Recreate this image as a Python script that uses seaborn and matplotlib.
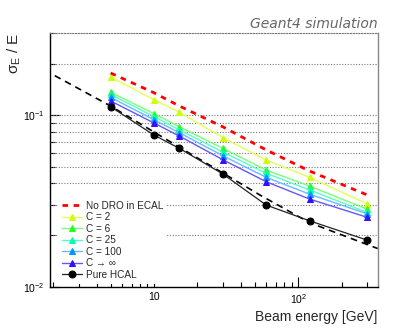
import matplotlib
matplotlib.use("Agg")
import matplotlib.pyplot as plt
import matplotlib.ticker as mticker
import seaborn as sns

# beam energies [GeV] and resolution sigma_E / E
energy = [5, 10, 15, 30, 60, 120, 300]
no_dro = [0.176, 0.135, 0.113, 0.0855, 0.0627, 0.0472, 0.0343]
c2 = [0.167, 0.123, 0.104, 0.074, 0.0547, 0.0434, 0.0304]
c6 = [0.136, 0.102, 0.0855, 0.064, 0.0478, 0.0386, 0.0283]
c25 = [0.132, 0.098, 0.082, 0.061, 0.0458, 0.0366, 0.0271]
c100 = [0.127, 0.094, 0.079, 0.058, 0.0434, 0.0346, 0.0266]
cinf = [0.121, 0.090, 0.0755, 0.055, 0.0409, 0.0324, 0.0254]
hcal = [0.112, 0.0765, 0.064, 0.0454, 0.0299, 0.0242, 0.0187]

# dashed fit curve through pure HCAL points
fit_energy = [2.05, 5, 15, 55, 120, 355]
fit_sigma = [0.170, 0.113, 0.065, 0.034, 0.0236, 0.0167]

c_labels = ["C = 2", "C = 6", "C = 25", "C = 100", "C \u2192 \u221e"]
c_series = [c2, c6, c25, c100, cinf]
marker_colors = ["#ccff00", "#22ff22", "#00ffb0", "#0099ff", "#3311ff"]
line_colors = ["#e2ff55", "#77ff77", "#55ffcc", "#66bbff", "#6655ff"]

sns.set_theme(style="ticks")
plt.rcParams["font.family"] = ["Liberation Sans", "DejaVu Sans"]
plt.rcParams["mathtext.fontset"] = "custom"
plt.rcParams["mathtext.rm"] = "Liberation Sans"
plt.rcParams["mathtext.it"] = "Liberation Sans:italic"

fig = plt.figure(figsize=(4.19, 3.31), dpi=100)
ax = fig.add_axes([0.1193, 0.1338, 0.782, 0.7656])

# black dashed fit
sns.lineplot(x=fit_energy, y=fit_sigma, ax=ax, color="black", lw=1.2,
             linestyle=(0, (4, 3)), zorder=3)

for lab, vals, mc, lc in zip(c_labels, c_series, marker_colors, line_colors):
    sns.lineplot(x=energy, y=vals, ax=ax, color=lc, lw=1.0, marker="^",
                 markersize=5, markerfacecolor=mc, markeredgecolor=mc,
                 label=lab, zorder=4)

sns.lineplot(x=energy, y=hcal, ax=ax, color="#222222", lw=0.9, marker="o",
             markersize=5, markerfacecolor="black", markeredgecolor="black",
             label="Pure HCAL", zorder=4)

sns.lineplot(x=energy, y=no_dro, ax=ax, color="red", lw=2.0,
             linestyle=(0, (2, 2)), label="No DRO in ECAL", zorder=5)

ax.set_xscale("log")
ax.set_yscale("log")
ax.set_xlim(1.9, 355)
ax.set_ylim(0.01, 0.3)

# horizontal dotted grid
for yv in [0.02, 0.03, 0.04, 0.05, 0.06, 0.07, 0.08, 0.09, 0.1, 0.2]:
    ax.axhline(yv, color="#777777", lw=0.8, linestyle=(0, (1, 1.5)), zorder=1)

ax.xaxis.set_major_locator(mticker.FixedLocator([10, 100]))
ax.xaxis.set_major_formatter(mticker.FixedFormatter(["10", "$10^{2}$"]))
ax.xaxis.set_minor_locator(mticker.LogLocator(base=10, subs=range(2, 10)))
ax.xaxis.set_minor_formatter(mticker.NullFormatter())
ax.yaxis.set_major_locator(mticker.FixedLocator([0.01, 0.1]))
ax.yaxis.set_major_formatter(mticker.FixedFormatter(["$10^{-2}$", "$10^{-1}$"]))
ax.yaxis.set_minor_locator(mticker.LogLocator(base=10, subs=range(2, 10)))
ax.yaxis.set_minor_formatter(mticker.NullFormatter())

ax.tick_params(which="both", direction="in", top=False, right=False,
               colors="black", labelsize=7.5)
ax.tick_params(which="major", length=7, width=0.8, pad=4)
ax.tick_params(which="minor", length=3.5, width=0.8)

for side in ["left", "bottom"]:
    ax.spines[side].set_color("black")
    ax.spines[side].set_linewidth(1.0)
ax.spines["right"].set_color("#888888")
ax.spines["right"].set_linewidth(1.0)
ax.spines["top"].set_color("#777777")
ax.spines["top"].set_linestyle((0, (1, 1.5)))
ax.spines["top"].set_linewidth(0.8)

ax.set_xlabel("Beam energy [GeV]", loc="right", fontsize=10, labelpad=3)
fig.text(14 / 419, 1 - 33 / 331, "\u03c3$_{\\mathrm{E}}$ / E", rotation=90,
         ha="center", va="top", fontsize=11)

ax.text(1.0, 1.008, "Geant4 simulation", transform=ax.transAxes, ha="right",
        va="bottom", fontsize=10, style="italic", color="#666666",
        family=["DejaVu Sans"])

handles, labels = ax.get_legend_handles_labels()
order = [labels.index("No DRO in ECAL")] + [labels.index(l) for l in c_labels] + [labels.index("Pure HCAL")]
leg = ax.legend([handles[i] for i in order], [labels[i] for i in order],
                loc="lower left", bbox_to_anchor=(0.024, 0.011),
                borderaxespad=0, borderpad=0.4, fontsize=7.2,
                labelspacing=0.15, handlelength=2.0, handletextpad=0.4,
                frameon=True, fancybox=False, framealpha=1,
                facecolor="white", edgecolor="none")
leg.set_zorder(6)

fig.savefig("out.png", dpi=100)
